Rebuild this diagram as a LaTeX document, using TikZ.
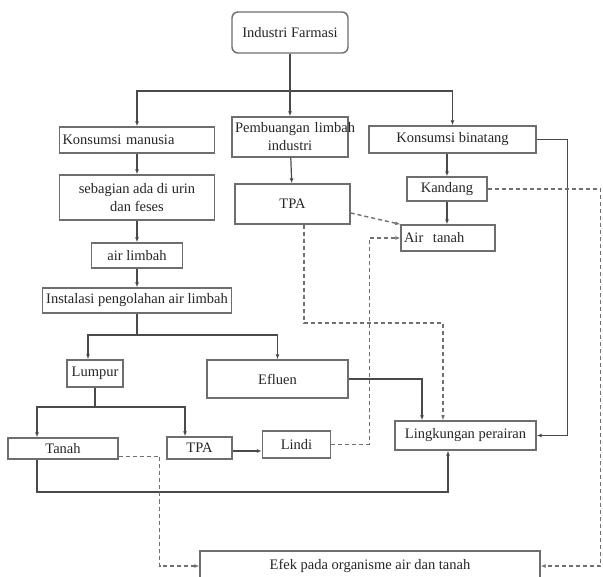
\documentclass[tikz,border=0pt]{standalone}
\usepackage{fontspec}
\setmainfont{Liberation Serif}
\usetikzlibrary{arrows.meta}
\definecolor{boxgray}{HTML}{6E6E6E}
\definecolor{linegray}{HTML}{4A4A4A}
\definecolor{dashgray}{HTML}{707070}
\begin{document}
\begin{tikzpicture}[x=1pt, y=-1pt,
  box/.style = {draw=boxgray, line width=1.4pt, rectangle, inner sep=3pt,
                text=black!85, font=\fontsize{14.5}{18}\selectfont},
  flow/.style = {draw=linegray, line width=1.2pt, -{Latex[length=5pt,width=4pt]}},
  link/.style = {draw=linegray, line width=1.2pt},
  leak/.style = {draw=dashgray, line width=1.4pt, dash pattern=on 4pt off 3pt,
                 -{Latex[length=5pt,width=4pt]}}]
\useasboundingbox[fill=white] (0,0) rectangle (603,577);
\begin{scope}[every node/.style = {box}]
\node[rounded corners=6pt, minimum width=116pt, minimum height=41pt] (farmasi) at (290,32.5) {Industri Farmasi};
\node[text width=149pt, align=left, minimum height=26pt] (kmanusia) at (137,140) {Konsumsi manusia};
\node[align=center, minimum width=155pt, minimum height=45pt] (sebagian) at (137,197.5) {sebagian ada di urin\\dan feses};
\node[minimum width=91pt, minimum height=25pt] (airlimbah) at (137,255.5) {air limbah};
\node[minimum width=189pt, minimum height=25pt] (ipal) at (137,300.5) {Instalasi pengolahan air limbah};
\node[text width=110pt, align=center, minimum height=40pt] (pembuangan) at (290,137) {\mbox{Pembuangan limbah}\\industri};
\node[minimum width=115pt, minimum height=40pt] (tpa1) at (292.5,204) {TPA};
\node[minimum width=167pt, minimum height=27pt] (kbinatang) at (452.5,139.5) {Konsumsi binatang};
\node[minimum width=80pt, minimum height=24pt] (kandang) at (447,189) {Kandang};
\node[text width=88pt, align=left, minimum height=26pt] (airtanah) at (448,238) {Air~~tanah};
\node[minimum width=56pt, minimum height=27pt] (lumpur) at (95,373.5) {Lumpur};
\node[minimum width=141pt, minimum height=38pt] (efluen) at (277.5,379) {Efluen};
\node[minimum width=110pt, minimum height=21pt] (tanah) at (63,448.5) {Tanah};
\node[minimum width=65pt, minimum height=22pt] (tpa2) at (199.5,448) {TPA};
\node[minimum width=68pt, minimum height=27pt] (lindi) at (296.5,444.5) {Lindi};
\node[minimum width=141pt, minimum height=29pt] (lingkungan) at (465.5,435.5) {Lingkungan perairan};
\node[minimum width=340pt, minimum height=30pt] (efek) at (370,566) {Efek pada organisme air dan tanah};
\end{scope}
\coordinate (split) at (290,91);
\coordinate (ipalsplit) at (137,335);
\coordinate (lumpursplit) at (95,407);
\coordinate (loopend) at (448,492);
\coordinate (tpabend) at (443,323);
\begin{scope}[every edge/.style = {flow}]
\path (split) edge (pembuangan);
\path (kmanusia) edge (sebagian);
\path (sebagian) edge (airlimbah);
\path (airlimbah) edge (ipal);
\path (pembuangan) edge (tpa1);
\path (kbinatang.south -| kandang) edge (kandang);
\path (kandang) edge (kandang |- airtanah.north);
\path ([yshift=-3pt]tpa2.east) edge ([yshift=-3pt]tpa2.east -| lindi.west);
\end{scope}
\draw[link] (farmasi) -- (split);
\draw[flow] (split) -| (kmanusia.north);
\draw[flow] (split) -| (kbinatang.north);
\draw[link] (ipal) -- (ipalsplit);
\draw[flow] (ipalsplit) -| ([xshift=-7pt]lumpur.north);
\draw[flow] (ipalsplit) -| (efluen.north);
\draw[link] (lumpur) -- (lumpursplit);
\draw[flow] (lumpursplit) -| ([xshift=-26pt]tanah.north);
\draw[flow] (lumpursplit) -| ([xshift=-14.5pt]tpa2.north);
\draw[flow] ([xshift=-26pt]tanah.south) |- (loopend) -- ([xshift=-17.5pt]lingkungan.south);
\draw[flow] (efluen.east) -| ([xshift=-43.5pt]lingkungan.north);
\draw[flow] (kbinatang.east) -- ++(31,0) |- (lingkungan.east);
% dashed
\draw[leak] ([yshift=-9pt]tpa1.east) -- (airtanah.north west);
\draw[leak] ([xshift=11.5pt]tpa1.south) |- (tpabend) -- ([xshift=-22.5pt]lingkungan.north);
\draw[leak] (lindi.east) -- ++(38,0) |- (airtanah.west);
\draw[leak] (kandang.east) -- ++(113,0) |- (efek.east);
\draw[leak] ([yshift=-8pt]tanah.east) -- ++(41,0) |- (efek.west);
\end{tikzpicture}
\end{document}
